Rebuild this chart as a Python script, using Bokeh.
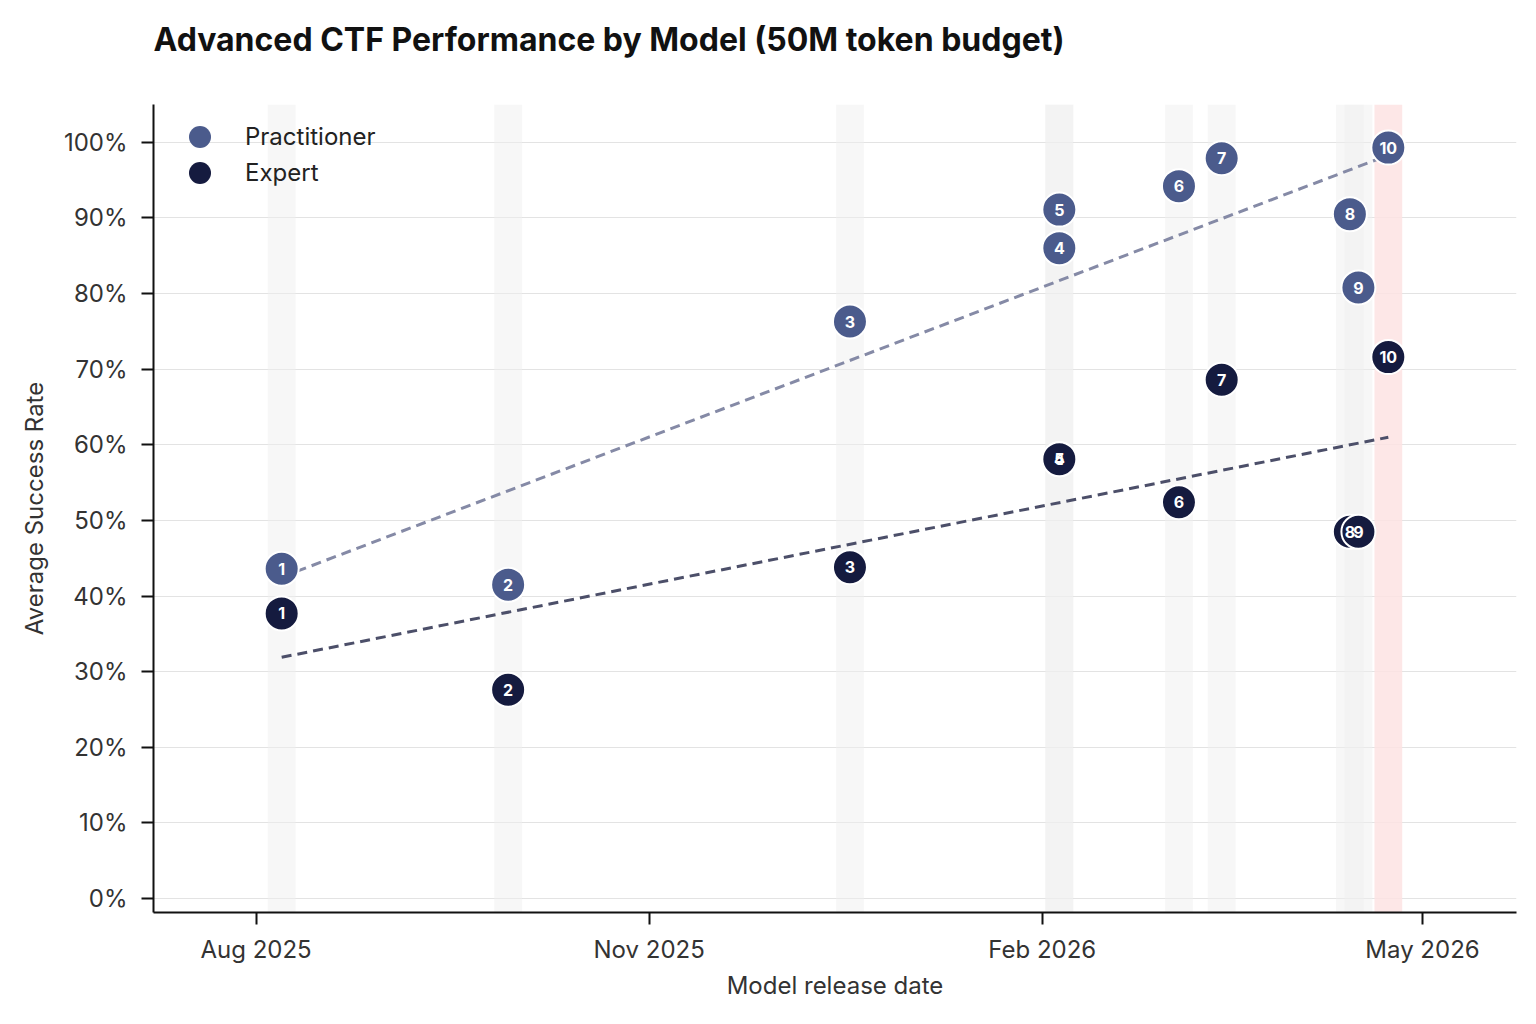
from datetime import datetime, timedelta
from bokeh.plotting import figure
from bokeh.models import (ColumnDataSource, Range1d, FixedTicker, DatetimeTickFormatter,
                          NumeralTickFormatter, Legend, LegendItem, Title)
from bokeh.core.properties import value
from bokeh.embed import file_html
from bokeh.resources import INLINE

# ---------------- data ----------------
model_labels = ["1", "2", "3", "4", "5", "6", "7", "8", "9", "10"]
release_dates = ["2025-08-07", "2025-09-29", "2025-12-18", "2026-02-05", "2026-02-05",
                 "2026-03-05", "2026-03-15", "2026-04-14", "2026-04-16", "2026-04-23"]
practitioner = [0.436, 0.415, 0.763, 0.860, 0.911, 0.942, 0.979, 0.905, 0.808, 0.993]
expert = [0.377, 0.276, 0.438, 0.581, 0.581, 0.524, 0.686, 0.485, 0.485, 0.716]
highlight = [False, False, False, False, False, False, False, False, False, True]

trend_dates = ["2025-08-07", "2026-04-23"]
practitioner_trend = [0.425, 0.983]
expert_trend = [0.319, 0.610]

title_text = "Advanced CTF Performance by Model (50M token budget)"
series_names = ["Practitioner", "Expert"]
x_tick_dates = ["2025-08-01", "2025-11-01", "2026-02-01", "2026-05-01"]
y_ticks = [0.0, 0.1, 0.2, 0.3, 0.4, 0.5, 0.6, 0.7, 0.8, 0.9, 1.0]

PRAC = "#4b5b8c"
EXP = "#151b3f"
FONT = "Inter"


def ts(s):
    return datetime.strptime(s, "%Y-%m-%d")


def ms(d):
    return (d - datetime(1970, 1, 1)).total_seconds() * 1000.0


dates = [ts(d) for d in release_dates]
x_start = ts("2025-07-08")
x_end = ts("2026-05-23")
y_lo, y_hi = -0.0185, 1.05

p = figure(width=1528, height=1016, x_axis_type="datetime", title=None,
           x_range=Range1d(x_start, x_end), y_range=Range1d(y_lo, y_hi),
           output_backend="svg", toolbar_location=None,
           min_border_left=153, min_border_right=12, min_border_top=104, min_border_bottom=104)

p.outline_line_color = None
p.background_fill_color = "white"
p.border_fill_color = "white"

# spacer (closest to the frame) then the real title above it
p.add_layout(Title(text=" ", text_font=FONT, text_font_size="32px", standoff=5), "above")
p.add_layout(Title(text=title_text, text_font=FONT, text_font_size="32px",
                   text_font_style="bold", text_color="#111111", align="left",
                   vertical_align="bottom", standoff=0), "above")

# release-date bands
band_w = timedelta(days=6.5).total_seconds() * 1000.0
band_src = ColumnDataSource(dict(
    x=dates,
    color=["#fde3e3" if h else "#efefef" for h in highlight],
    alpha=[0.85 if h else 0.5 for h in highlight],
))
p.vbar(x="x", width=band_w, top=y_hi, bottom=y_lo, source=band_src,
       fill_color="color", fill_alpha="alpha", line_color=None)

# grid
p.xgrid.grid_line_color = None
p.ygrid.grid_line_color = "#e3e3e3"
p.ygrid.grid_line_width = 1

# trend lines
tdates = [ts(d) for d in trend_dates]
p.line(tdates, practitioner_trend, line_color="#858aa6", line_width=3, line_dash="10 6")
p.line(tdates, expert_trend, line_color="#4c4f69", line_width=3, line_dash="10 6")

src = ColumnDataSource(dict(x=dates, prac=practitioner, exp=expert, lab=model_labels))
p.scatter("x", "prac", source=src, size=34, fill_color=PRAC, line_color="white", line_width=2)
p.scatter("x", "exp", source=src, size=34, fill_color=EXP, line_color="white", line_width=2)
for col in ["prac", "exp"]:
    p.text("x", col, text="lab", source=src, text_color="white", text_font=value(FONT),
           text_font_style="bold", text_font_size="16px", text_align="center",
           text_baseline="middle")

# legends (one per item, for tight spacing with large markers)
legend_offsets = [(19, 748), (19, 712)]
for name, color, loc in zip(series_names, [PRAC, EXP], legend_offsets):
    r = p.scatter([x_start], [-5], size=22, fill_color=color, line_color=None)
    lg = Legend(items=[LegendItem(label=name, renderers=[r])],
                background_fill_alpha=0, border_line_color=None,
                label_text_font=FONT, label_text_font_size="24px", label_text_color="#222222",
                glyph_width=55, glyph_height=55, spacing=0, padding=0, margin=0,
                label_standoff=18, label_height=24)
    lg.location = loc
    p.add_layout(lg)

# axes
for ax in (p.xaxis[0], p.yaxis[0]):
    ax.axis_line_color = "#111111"
    ax.axis_line_width = 2
    ax.major_tick_line_color = "#111111"
    ax.major_tick_line_width = 2
    ax.major_tick_out = 12
    ax.major_tick_in = 0
    ax.minor_tick_line_color = None
    ax.major_label_text_font = FONT
    ax.major_label_text_font_size = "24px"
    ax.major_label_text_color = "#333333"
    ax.axis_label_text_font = FONT
    ax.axis_label_text_font_size = "24px"
    ax.axis_label_text_color = "#333333"
    ax.axis_label_text_font_style = "normal"

p.xaxis.ticker = FixedTicker(ticks=[ms(ts(d)) for d in x_tick_dates])
p.xaxis.formatter = DatetimeTickFormatter(days="%b %Y", months="%b %Y", years="%b %Y")
p.xaxis.axis_label = "Model release date"
p.xaxis.major_label_standoff = 10
p.xaxis.axis_label_standoff = 4

p.yaxis.ticker = FixedTicker(ticks=y_ticks)
p.yaxis.formatter = NumeralTickFormatter(format="0%")
p.yaxis.axis_label = "Average Success Rate"
p.yaxis.major_label_standoff = 14
p.yaxis.axis_label_standoff = 12

open("out.html", "w").write(file_html(p, INLINE))
